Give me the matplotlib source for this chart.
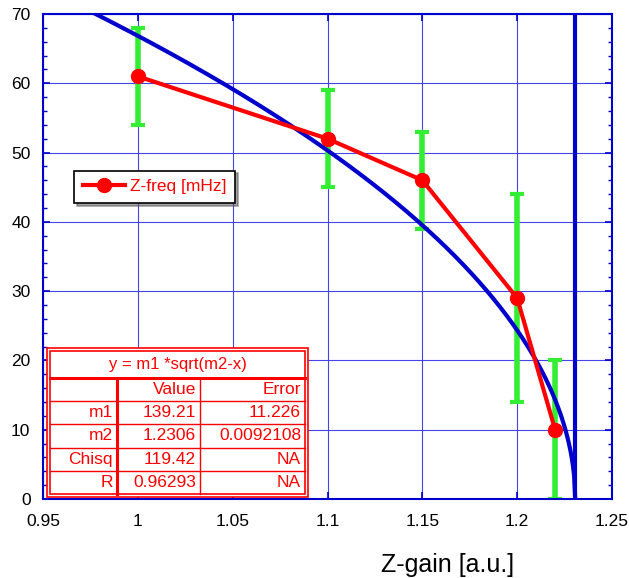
import numpy as np
import matplotlib
matplotlib.use("Agg")
import matplotlib.pyplot as plt
from matplotlib.patches import Rectangle
from matplotlib.ticker import MultipleLocator

plt.rcParams['font.family'] = ['Liberation Sans', 'DejaVu Sans']

x_gain = [1.00, 1.10, 1.15, 1.20, 1.22]
z_freq = [61, 52, 46, 29, 10]
z_err = [7, 7, 7, 15, 10]
m1, m2 = 139.21, 1.2306
table_rows = [["", "Value", "Error"],
              ["m1", "139.21", "11.226"],
              ["m2", "1.2306", "0.0092108"],
              ["Chisq", "119.42", "NA"],
              ["R", "0.96293", "NA"]]
table_title = "y = m1 *sqrt(m2-x)"

fig = plt.figure(figsize=(6.29, 5.78), dpi=100)
ax = fig.add_axes([43/629, 1-499/578, (612-43)/629, (499-14)/578])

blue = '#0000cc'
ax.set_xlim(0.95, 1.25)
ax.set_ylim(0, 70)
ax.xaxis.set_major_locator(MultipleLocator(0.05))
ax.yaxis.set_major_locator(MultipleLocator(10))
ax.yaxis.set_minor_locator(MultipleLocator(2))
ax.grid(True, which='major', color='#4444ee', lw=0.8)
ax.set_axisbelow(True)
for s in ax.spines.values():
    s.set_color(blue)
    s.set_linewidth(1.5)
ax.tick_params(which='both', direction='in', top=True, right=True, color=blue)
ax.tick_params(which='major', length=5, width=1.2, labelsize=12.5)
ax.tick_params(axis='x', which='major', pad=11)
ax.tick_params(axis='y', which='major', pad=9)
ax.tick_params(which='minor', length=3, width=1)
ax.set_xticks([0.95, 1.0, 1.05, 1.1, 1.15, 1.2, 1.25])
ax.set_xticklabels(['0.95', '1', '1.05', '1.1', '1.15', '1.2', '1.25'])

# fit curve
xf = np.linspace(0.9, m2, 600)
yf = m1 * np.sqrt(m2 - xf)
ax.plot(xf, yf, color=blue, lw=3, zorder=3)
ax.axvline(m2, color=blue, lw=3, zorder=3)

ax.errorbar(x_gain, z_freq, yerr=z_err, fmt='none', ecolor='#33ee33',
            elinewidth=4, capsize=5, capthick=3, zorder=2)
line, = ax.plot(x_gain, z_freq, color='red', lw=3, marker='o', ms=10, zorder=4,
                label='Z-freq [mHz]')

leg = ax.legend(handles=[line], loc='upper left', bbox_to_anchor=(0.04, 0.695),
                fontsize=12.5, frameon=True, fancybox=False, shadow=True,
                borderpad=0.5, handlelength=2.4, handletextpad=0.3,
                labelcolor='red')
leg.get_frame().set_edgecolor('black')
leg.get_frame().set_linewidth(1.2)

# fit table
tx0, tx1 = 47, 308
ty0, ty1 = 348, 497
def fx(px):
    return px / 629
def fy(py):
    return 1 - py / 578
fig.patches.append(Rectangle((fx(tx0), fy(ty1)), fx(tx1) - fx(tx0), fy(ty0) - fy(ty1),
                             transform=fig.transFigure, facecolor='white',
                             edgecolor='red', lw=1.2, zorder=5))
fig.patches.append(Rectangle((fx(tx0 + 3), fy(ty1 - 3)), fx(tx1 - tx0 - 6), fy(ty0 + 3) - fy(ty1 - 3),
                             transform=fig.transFigure, facecolor='none',
                             edgecolor='red', lw=1.2, zorder=6))
col_edges = [tx0 + 3, 117, 200, tx1 - 3]
title_bottom = 378
row_h = (ty1 - 3 - title_bottom) / len(table_rows)
fig.text(fx((tx0 + tx1) / 2), fy((ty0 + 3 + title_bottom) / 2), table_title,
         color='red', ha='center', va='center', fontsize=12, zorder=7)
fig.add_artist(plt.Line2D([fx(tx0 + 3), fx(tx1 - 3)], [fy(title_bottom)] * 2,
                          transform=fig.transFigure, color='red', lw=2.2, zorder=7))
for i, row in enumerate(table_rows):
    ytop = title_bottom + i * row_h
    if i > 0:
        fig.add_artist(plt.Line2D([fx(tx0 + 3), fx(tx1 - 3)], [fy(ytop)] * 2,
                                  transform=fig.transFigure, color='red', lw=1, zorder=7))
    for j, val in enumerate(row):
        fig.text(fx(col_edges[j + 1] - 4), fy(ytop + row_h / 2), val, color='red',
                 ha='right', va='center', fontsize=12.5, zorder=8)
for j, ce in enumerate(col_edges[1:-1]):
    fig.add_artist(plt.Line2D([fx(ce)] * 2, [fy(title_bottom), fy(ty1 - 3)],
                              transform=fig.transFigure, color='red',
                              lw=2.2 if j == 0 else 1, zorder=7))

fig.text(448/629, 1 - 565/578, 'Z-gain [a.u.]', fontsize=18, ha='center', va='center')

fig.savefig('out.png', dpi=100)
